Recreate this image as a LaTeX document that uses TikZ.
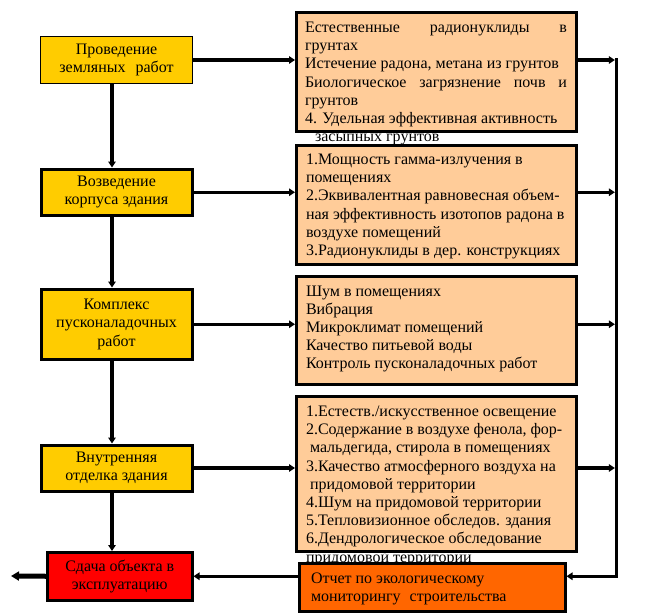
\documentclass[tikz,border=0pt]{standalone}
\usepackage{fontspec}
\setmainfont{Liberation Serif}
\usetikzlibrary{arrows.meta}
\definecolor{ybox}{HTML}{FFCC00}
\definecolor{pbox}{HTML}{FFCC99}
\definecolor{rbox}{HTML}{FF0000}
\definecolor{obox}{HTML}{FF6600}
\newcommand{\rtxt}[2]{\parbox[t]{#1}{\fontsize{16}{18.2}\selectfont\raggedright #2}}
\newcommand{\jl}[2]{\makebox[#1][s]{#2}}
\begin{document}
\begin{tikzpicture}[x=1pt,y=-1pt,
  boxbase/.style={draw=black,line width=3pt,inner sep=0pt,align=center,
    font=\fontsize{16}{18.4}\selectfont},
  leftbox/.style={boxbase,fill=ybox},
  rightbox/.style={boxbase,fill=pbox},
  rtext/.style={anchor=base west,inner sep=0pt,outer sep=0pt},
  conn/.style={line width=3.2pt,-{Triangle[length=6pt,width=7.5pt]}},
  bus/.style={line width=3.2pt}]
\useasboundingbox (0,0) rectangle (657,614);
\coordinate (vx) at (112,0);
\coordinate (busx) at (616.5,0);
\coordinate (outc) at (11,576);
% left boxes
\node[leftbox,line width=1pt,minimum width=152pt,minimum height=47pt] (L1) at (116.5,60) {Проведение\\земляных\hspace{10pt}работ};
\node[leftbox,minimum width=151pt,minimum height=46.5pt] (L2) at (116.5,192.25) {Возведение\\корпуса здания};
\node[leftbox,minimum width=151pt,minimum height=70.5pt] (L3) at (116.5,324.25) {Комплекс\\пусконаладочных\\работ};
\node[leftbox,minimum width=151pt,minimum height=46pt] (L4) at (116.5,468) {Внутренняя\\отделка здания};
\node[boxbase,fill=rbox,minimum width=144.5pt,minimum height=47.5pt] (L5) at (119.75,576.25) {Сдача объекта в\\эксплуатацию};
% right boxes
\node[rightbox,minimum width=280pt,minimum height=119pt] (R1) at (436.5,72) {};
\node[rtext] (T1) at (305,32.5) {\rtxt{262pt}{\jl{262pt}{Естественные радионуклиды в}\\
грунтах\\
Истечение радона, метана из грунтов\\
\jl{262pt}{Биологическое загрязнение почв и}\\
грунтов\\
4. Удельная эффективная активность\\
\hspace*{10pt}засыпных грунтов}};
\node[rightbox,minimum width=280pt,minimum height=119pt] (R2) at (436.5,204.5) {};
\node[rtext] (T2) at (306,164.5) {\rtxt{262pt}{1.Мощность гамма-излучения в\\
помещениях\\
2.Эквивалентная равновесная объем-\\
ная эффективность изотопов радона в\\
воздухе помещений\\
3.Радионуклиды в дер. конструкциях}};
\node[rightbox,minimum width=280pt,minimum height=107.5pt] (R3) at (436.5,330.25) {};
\node[rtext] (T3) at (306,296.5) {\parbox[t]{262pt}{\fontsize{16}{18.1}\selectfont\raggedright Шум в помещениях\\
Вибрация\\
Микроклимат помещений\\
Качество питьевой воды\\
Контроль пусконаладочных работ}};
\node[rightbox,minimum width=280pt,minimum height=155pt] (R4) at (436.5,474) {};
\node[rtext] (T4) at (306,416.5) {\rtxt{262pt}{1.Естеств./искусственное освещение\\
2.Содержание в воздухе фенола, фор-\\
\hspace*{4pt}мальдегида, стирола в помещениях\\
3.Качество атмосферного воздуха на\\
\hspace*{4pt}придомовой территории\\
4.Шум на придомовой территории\\
5.Тепловизионное обследов. здания\\
6.Дендрологическое обследование\\
придомовой территории}};
\node[boxbase,fill=obox,minimum width=265.5pt,minimum height=48pt] (R5) at (432.25,587.5) {};
\node[rtext] (T5) at (311,583.5) {\parbox[t]{250pt}{\fontsize{16}{18}\selectfont\raggedright Отчет по экологическому\\
мониторингу\hspace{9pt}строительства}};
% vertical flow
\draw[conn] (L1.south -| vx) -- (L2.north -| vx);
\draw[conn] (L2.south -| vx) -- (L3.north -| vx);
\draw[conn] (L3.south -| vx) -- (L4.north -| vx);
\draw[conn] (L4.south -| vx) -- (L5.north -| vx);
% left to right
\draw[conn] (L1.east) -- (L1.east -| R1.west);
\draw[conn] (L2.east) -- (L2.east -| R2.west);
\draw[conn] (L3.east) -- (L3.east -| R3.west);
\draw[conn] (L4.east) -- (L4.east -| R4.west);
% right to bus
\draw[conn] (R1.east |- L1.east) -- ([xshift=-1.6pt]busx |- L1.east);
\draw[conn] (R2.east |- L2.east) -- ([xshift=-1.6pt]busx |- L2.east);
\draw[conn] (R3.east |- L3.east) -- ([xshift=-1.6pt]busx |- L3.east);
\draw[conn] (R4.east |- L4.east) -- ([xshift=-1.6pt]busx |- L4.east);
\draw[bus,line cap=rect] (busx |- L1.east) -- (busx |- L5.east);
\draw[conn] (busx |- L5.east) -- (R5.east |- L5.east);
\draw[conn] (R5.west |- L5.east) -- (L5.east);
\draw[line width=5pt,-{Triangle[length=8pt,width=9pt]}] (L5.west) -- (outc);
\end{tikzpicture}
\end{document}
